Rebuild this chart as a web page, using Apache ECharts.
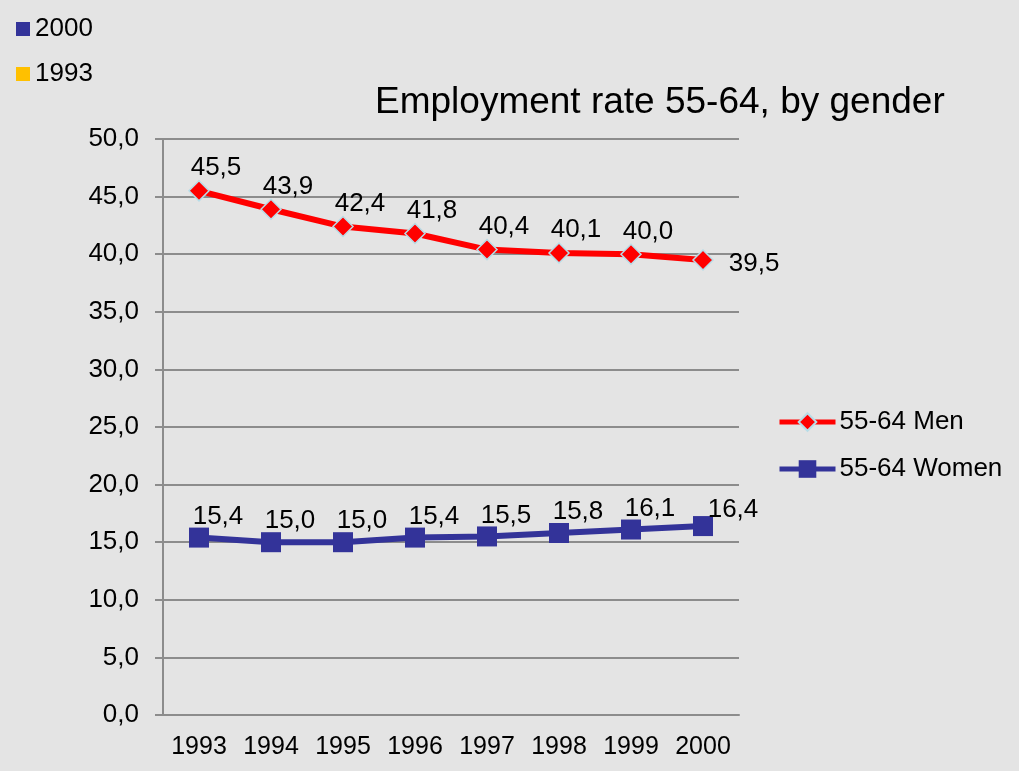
<!DOCTYPE html>
<html>
<head>
<meta charset="utf-8">
<script src="https://cdn.jsdelivr.net/npm/echarts@6/dist/echarts.min.js"></script>
<style>
  html, body { margin: 0; padding: 0; background: #e4e4e4; }
  #chart { width: 1019px; height: 771px; }
</style>
</head>
<body>
<div id="chart"></div>
<script>
const years = ['1993', '1994', '1995', '1996', '1997', '1998', '1999', '2000'];
const men = [45.5, 43.9, 42.4, 41.8, 40.4, 40.1, 40.0, 39.5];
const women = [15.4, 15.0, 15.0, 15.4, 15.5, 15.8, 16.1, 16.4];
const cornerKeys = ['2000', '1993'];
const cornerColors = ['#333399', '#ffc000'];

const fmt = v => v.toFixed(1).replace('.', ',');
const font = 'Liberation Sans, Arial, sans-serif';

// Labels sit up and to the right of each point; the last one gets its own placement.
function labelled(values, normal, last) {
  return values.map((v, i) => ({
    value: v,
    label: i === values.length - 1 ? last : normal
  }));
}

const chart = echarts.init(document.getElementById('chart'));
chart.setOption({
  backgroundColor: '#e4e4e4',
  animation: false,
  title: {
    text: 'Employment rate 55-64, by gender',
    left: 370, top: 79,
    textStyle: { fontFamily: font, fontSize: 37, fontWeight: 'normal', color: '#000' }
  },
  legend: [
    {
      data: cornerKeys,
      orient: 'vertical', left: 11, top: 11, itemGap: 19,
      icon: 'rect', itemWidth: 14, itemHeight: 14,
      textStyle: { fontFamily: font, fontSize: 26, color: '#000' }
    },
    {
      data: ['55-64 Men', '55-64 Women'],
      orient: 'vertical', left: 772, top: 404, itemGap: 21,
      itemWidth: 56, itemHeight: 22,
      lineStyle: { width: 5 },
      textStyle: { fontFamily: font, fontSize: 26, color: '#000', padding: [0, 0, 0, -1] }
    }
  ],
  grid: { left: 163, right: 280, top: 139, bottom: 56 },
  xAxis: {
    type: 'category',
    data: years,
    boundaryGap: true,
    axisLine: { lineStyle: { color: '#8c8c8c', width: 2 } },
    axisTick: { length: 8, lineStyle: { color: '#8c8c8c', width: 2 } },
    axisLabel: { interval: 0, hideOverlap: false, fontFamily: font, fontSize: 25, color: '#000', margin: 20 }
  },
  yAxis: {
    type: 'value',
    min: 0, max: 50, interval: 5,
    axisLine: { show: true, lineStyle: { color: '#8c8c8c', width: 2 } },
    axisTick: { show: true, length: 8, lineStyle: { color: '#8c8c8c', width: 2 } },
    splitLine: { lineStyle: { color: '#8c8c8c', width: 2 } },
    axisLabel: { fontFamily: font, fontSize: 26, color: '#000', margin: 24, formatter: v => fmt(v) }
  },
  series: [
    {
      name: '2000', type: 'line', data: [],
      itemStyle: { color: cornerColors[0] }
    },
    {
      name: '1993', type: 'line', data: [],
      itemStyle: { color: cornerColors[1] }
    },
    {
      name: '55-64 Men', type: 'line',
      data: labelled(men,
        { position: 'top', offset: [17, 6] },
        { position: 'right', offset: [10, 4] }),
      symbol: 'diamond', symbolSize: 20,
      lineStyle: { color: '#ff0000', width: 6 },
      itemStyle: { color: '#ff0000', borderColor: '#b7dde8', borderWidth: 1.5 },
      label: {
        show: true, fontFamily: font, fontSize: 26, color: '#000',
        formatter: p => fmt(p.value)
      },
      z: 3
    },
    {
      name: '55-64 Women', type: 'line',
      data: labelled(women,
        { position: 'top', offset: [19, 7] },
        { position: 'top', offset: [30, 12] }),
      symbol: 'rect', symbolSize: 20,
      lineStyle: { color: '#333399', width: 6 },
      itemStyle: { color: '#333399' },
      label: {
        show: true, fontFamily: font, fontSize: 26, color: '#000',
        formatter: p => fmt(p.value)
      },
      z: 3
    }
  ]
});
</script>
</body>
</html>
